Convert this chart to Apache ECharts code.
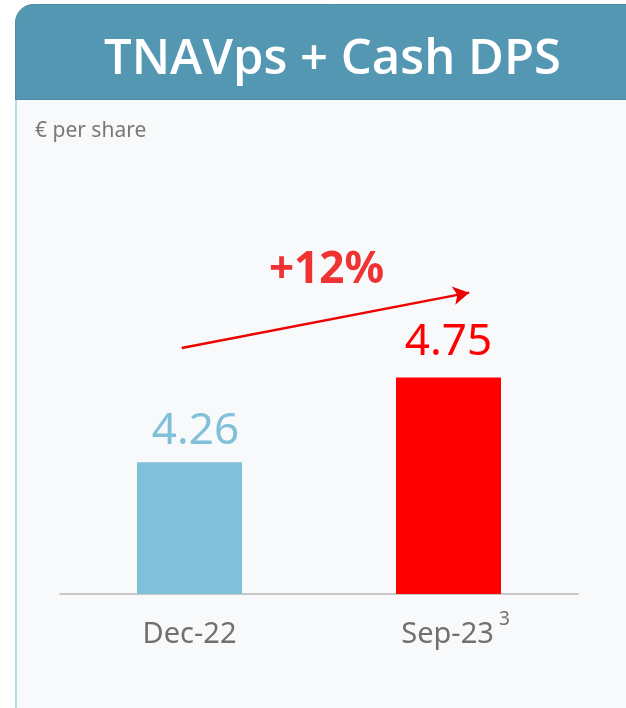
<!DOCTYPE html>
<html>
<head>
<meta charset="utf-8">
<script src="https://cdn.jsdelivr.net/npm/echarts@6/dist/echarts.min.js"></script>
<style>
  html, body { margin: 0; padding: 0; background: #ffffff; }
  #tnavChart { width: 626px; height: 708px; }
</style>
</head>
<body>
<div id="tnavChart"></div>
<script>
// data
var categories = ["Dec-22", "Sep-23"];
var values = [4.26, 4.75];
var barColors = ["#80c0d8", "#ff0000"];
var growthText = "+12%";
var footnotes = ["", "3"];

var chart = echarts.init(document.getElementById("tnavChart"));
var fontFamily = "'Noto Sans', 'Open Sans', sans-serif";

var option = {
  backgroundColor: "#ffffff",
  animation: false,
  graphic: [
    {
      // panel background + left border
      type: "rect",
      z: -10,
      shape: { x: 16, y: 40, width: 700, height: 800 },
      style: { fill: "#f7f9fb", stroke: "#b9dae9", lineWidth: 2 },
      silent: true
    }
  ],
  title: [
    {
      text: "TNAVps + Cash DPS",
      left: 15,
      top: 4,
      backgroundColor: "#5497b2",
      borderColor: "#4b8ba6",
      borderWidth: 1,
      borderRadius: [18, 0, 0, 0],
      padding: [26, 120, 10, 89],
      textStyle: {
        color: "#ffffff",
        fontSize: 49,
        fontWeight: 600,
        lineHeight: 60,
        fontFamily: "'Open Sans', sans-serif"
      }
    },
    {
      text: "€ per share",
      left: 30,
      top: 116,
      textStyle: {
        color: "#787878",
        fontSize: 21,
        fontWeight: "normal",
        fontFamily: fontFamily
      }
    }
  ],
  grid: {
    left: 60,
    right: 48,
    top: 161,
    bottom: 114,
    containLabel: false
  },
  xAxis: [
    {
      type: "category",
      data: categories,
      axisLine: { lineStyle: { color: "#c8c8c8", width: 2 } },
      axisTick: { show: false },
      axisLabel: {
        interval: 0,
        margin: 16,
        color: "#707070",
        fontSize: 29,
        lineHeight: 50,
        fontFamily: fontFamily,
        formatter: function(value, idx) {
          var note = footnotes[idx];
          if (note) {
            return "{pad|}{main|" + value + "}{sup|" + note + "}";
          }
          return "{main|" + value + "}";
        },
        rich: {
          main: {
            fontSize: 29,
            lineHeight: 50,
            color: "#707070",
            fontFamily: fontFamily
          },
          pad: { width: 14, lineHeight: 50 },
          sup: {
            fontSize: 19,
            lineHeight: 19,
            verticalAlign: "top",
            color: "#707070",
            fontFamily: fontFamily,
            padding: [0, 0, 0, 5]
          }
        }
      }
    },
    {
      // helper axis for the growth arrow annotation
      type: "value",
      min: -0.5,
      max: 1.5,
      show: false
    }
  ],
  yAxis: {
    type: "value",
    min: 3.5,
    max: 6,
    show: false
  },
  series: [
    {
      type: "bar",
      barWidth: 105,
      data: values.map(function(v, i) {
        return {
          value: v,
          itemStyle: { color: barColors[i] },
          label: {
            color: barColors[i],
            distance: i === 0 ? 9 : 13,
            offset: i === 0 ? [6, 0] : [0, 0]
          }
        };
      }),
      label: {
        show: true,
        position: "top",
        fontSize: 44,
        fontFamily: fontFamily,
        formatter: function(p) {
          return p.value.toFixed(2);
        }
      }
    },
    {
      type: "scatter",
      xAxisIndex: 1,
      symbolSize: 0,
      silent: true,
      data: [[0.529, 5.37]],
      label: {
        show: true,
        position: "inside",
        formatter: growthText,
        color: "#ee0000",
        fontSize: 44,
        fontWeight: "bold",
        fontFamily: fontFamily
      },
      markLine: {
        silent: true,
        symbol: ["none", "arrow"],
        symbolSize: [14, 16],
        label: { show: false },
        lineStyle: { color: "#ee0000", width: 2.5, type: "solid" },
        data: [
          [{ coord: [-0.03, 4.92] }, { coord: [1.08, 5.24] }]
        ]
      }
    }
  ]
};

chart.setOption(option);
</script>
</body>
</html>
